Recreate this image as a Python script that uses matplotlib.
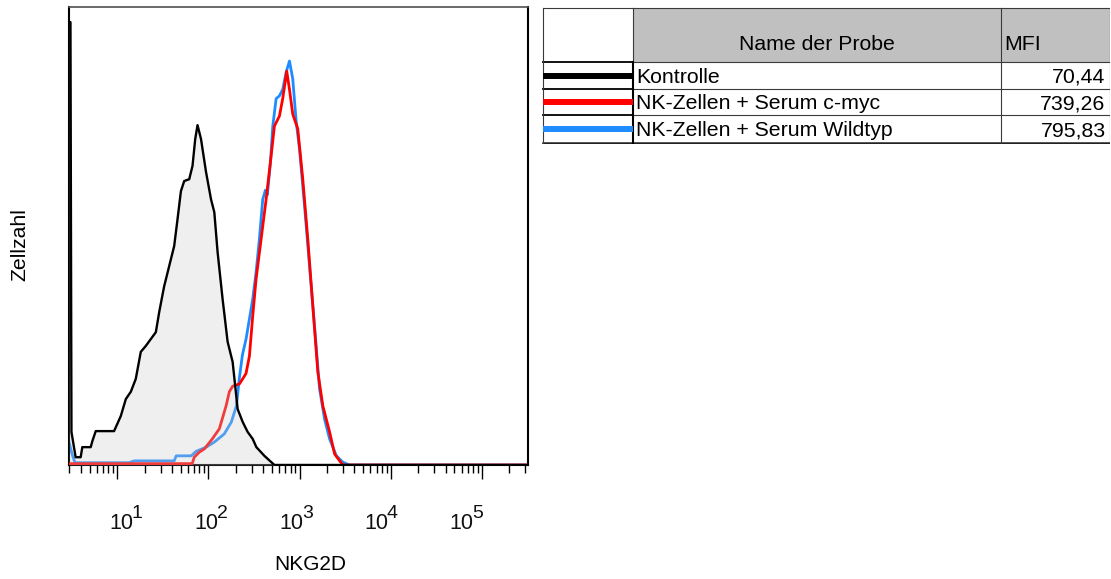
import numpy as np
import matplotlib
matplotlib.use("Agg")
import matplotlib.pyplot as plt
from matplotlib.patches import Rectangle
from matplotlib.ticker import LogLocator, NullFormatter, FixedLocator

plt.rcParams["font.family"] = ["Liberation Sans", "DejaVu Sans"]

# histogram traces: x in decades (log10 NKG2D intensity), y in % of max count
ctrl_log = [0.473, 0.489, 0.500, 0.546, 0.601, 0.619, 0.711, 0.729, 0.766, 0.967,
            1.003, 1.041, 1.096, 1.151, 1.205, 1.260, 1.315, 1.370, 1.425, 1.462,
            1.516, 1.571, 1.626, 1.663, 1.700, 1.736, 1.791, 1.827, 1.857, 1.882,
            1.920, 1.975, 2.030, 2.066, 2.102, 2.157, 2.212, 2.267, 2.322, 2.377,
            2.432, 2.487, 2.527, 2.615, 2.725, 5.505]
ctrl_count = [96.7, 96.7, 7.2, 1.7, 1.7, 3.9, 3.9, 5.2, 7.4, 7.4,
              9.0, 10.7, 14.4, 16.0, 18.8, 24.7, 26.0, 27.5, 29.0, 33.4,
              39.0, 43.4, 47.8, 53.7, 59.8, 62.0, 62.4, 65.3, 71.2, 74.2,
              71.2, 64.0, 58.0, 55.2, 46.5, 36.2, 26.9, 22.5, 12.2, 9.4,
              7.2, 5.7, 3.9, 2.0, 0.0, 0.0]

wt_log = [0.473, 0.505, 0.538, 1.132, 1.187, 1.626, 1.648, 1.813, 1.868, 1.978,
          2.066, 2.176, 2.253, 2.308, 2.341, 2.374, 2.414, 2.451, 2.487, 2.524,
          2.560, 2.597, 2.626, 2.648, 2.681, 2.707, 2.744, 2.780, 2.816, 2.854,
          2.890, 2.926, 2.964, 3.000, 3.055, 3.110, 3.165, 3.220, 3.275, 3.330,
          3.404, 3.476, 3.549, 5.505]
wt_count = [5.0, 2.5, 0.5, 0.5, 0.9, 0.9, 2.0, 2.0, 3.0, 3.9,
            5.0, 6.8, 9.4, 12.9, 19.0, 24.0, 27.5, 31.9, 36.2, 42.1,
            49.3, 58.0, 60.0, 59.0, 66.0, 74.0, 80.0, 80.6, 82.0, 85.8,
            88.2, 84.3, 74.9, 69.0, 56.6, 43.4, 30.3, 16.6, 10.0, 5.7,
            2.0, 0.6, 0.0, 0.0]

myc_log = [0.473, 1.824, 1.846, 1.901, 1.956, 2.044, 2.121, 2.195, 2.231, 2.267,
           2.341, 2.377, 2.414, 2.451, 2.487, 2.524, 2.579, 2.634, 2.689, 2.725,
           2.780, 2.816, 2.860, 2.890, 2.926, 2.981, 3.036, 3.091, 3.146, 3.201,
           3.256, 3.330, 3.385, 3.440, 3.476, 5.505]
myc_count = [0.3, 0.3, 1.7, 2.8, 3.5, 5.7, 7.9, 12.9, 16.0, 17.2,
             17.7, 18.8, 20.0, 23.8, 32.5, 40.6, 49.3, 58.0, 67.5, 74.0,
             76.2, 80.0, 86.0, 82.0, 76.6, 73.4, 62.4, 49.3, 34.7, 20.3,
             12.9, 7.2, 2.4, 0.9, 0.0, 0.0]

sample_names = ["Kontrolle", "NK-Zellen + Serum c-myc", "NK-Zellen + Serum Wildtyp"]
mfi_values = ["70,44", "739,26", "795,83"]
sample_colors = ["black", "#ff0000", "#1e8cff"]
decades = [1, 2, 3, 4, 5]

fig = plt.figure(figsize=(11.11, 5.79), dpi=100)
ax = fig.add_axes([69 / 1111, 1 - 465 / 579, 459 / 1111, 458 / 579])

ax.plot(np.power(10, wt_log), wt_count, color=sample_colors[2], lw=2.0, zorder=2)
ax.plot(np.power(10, myc_log), myc_count, color=sample_colors[1], lw=2.0, zorder=3)
ax.fill_between(np.power(10, ctrl_log), ctrl_count, 0, color="#cacaca", alpha=0.3,
                lw=0, zorder=4)
ax.plot(np.power(10, ctrl_log), ctrl_count, color=sample_colors[0], lw=1.7, zorder=5)

ax.set_xscale("log")
ax.set_xlim(10 ** 0.473, 10 ** 5.505)
ax.set_ylim(0, 100)
ax.set_yticks([])
ax.xaxis.set_major_locator(FixedLocator([10.0 ** k for k in decades]))
ax.xaxis.set_minor_locator(LogLocator(base=10, subs=np.arange(2, 10), numticks=20))
ax.xaxis.set_major_formatter(NullFormatter())
ax.xaxis.set_minor_formatter(NullFormatter())
ax.tick_params(axis="x", which="major", length=10, width=1.0, color="black")
ax.tick_params(axis="x", which="minor", length=5.5, width=1.0, color="black")
for side in ["left", "right", "bottom"]:
    ax.spines[side].set_linewidth(1.5)
    ax.spines[side].set_color("black")
ax.spines["top"].set_linewidth(1.2)
ax.spines["top"].set_color("#505050")

# decade labels: "10" plus a raised exponent, drifting left of the tick
for i, k in enumerate(decades):
    dx = -8 - 6.1 * i  # px
    ax.annotate("10", xy=(10.0 ** k, 0), xycoords=("data", "axes fraction"),
                xytext=(dx * 0.72, -46), textcoords="offset points",
                ha="left", va="baseline", fontsize=15.5, color="#111111")
    ax.annotate(str(k), xy=(10.0 ** k, 0), xycoords=("data", "axes fraction"),
                xytext=((dx + 22.5) * 0.72, -38), textcoords="offset points",
                ha="left", va="baseline", fontsize=14, color="#111111")

fig.text(310 / 1111, 1 - 564 / 579, "NKG2D", ha="center", va="center", fontsize=15)
fig.text(20 / 1111, 1 - 245 / 579, "Zellzahl", ha="center", va="center",
         rotation=90, fontsize=15.3)

# sample table, laid out in pixel units
tab = fig.add_axes([542 / 1111, 1 - 144 / 579, 568 / 1111, 137 / 579])
tab.set_xlim(541.5, 1109.5)
tab.set_ylim(144, 7)
tab.axis("off")

x0, x1, x2, x3 = 542, 632, 1000, 1109
row_edges = [8, 62, 88.5, 115, 142.5]
tab.add_patch(Rectangle((x1, row_edges[0]), x3 - x1, row_edges[1] - row_edges[0],
                        facecolor="#c0c0c0", edgecolor="none"))
grid_kw = dict(color="#3a3a3a", lw=0.8)
for y in row_edges[:-1]:
    tab.plot([x1, x3], [y, y], **grid_kw)
tab.plot([x0, x1], [row_edges[0], row_edges[0]], **grid_kw)
for y in row_edges[1:-1]:
    tab.plot([x0, x1], [y, y], color="black", lw=1.3)
tab.plot([x0, x3], [row_edges[-1], row_edges[-1]], color="#222222", lw=1.8)
for x in [x0, x2, x3]:
    tab.plot([x, x], [row_edges[0], row_edges[-1]], **grid_kw)
tab.plot([x1, x1], [row_edges[0], row_edges[1]], **grid_kw)
tab.plot([x1, x1], [row_edges[1], row_edges[-1]], color="black", lw=1.5)

tab.text((x1 + x2) / 2, 44, "Name der Probe", ha="center", va="center", fontsize=15.3)
tab.text(x2 + 4, 44, "MFI", ha="left", va="center", fontsize=15.3)
for i, (name, mfi, col) in enumerate(zip(sample_names, mfi_values, sample_colors)):
    mid = (row_edges[i + 1] + row_edges[i + 2]) / 2
    tab.plot([x0, x1], [mid + 0.5, mid + 0.5], color=col, lw=4.3, solid_capstyle="butt")
    tab.text(x1 + 4, mid + 2, name, ha="left", va="center", fontsize=15.3)
    tab.text(x3 - 4, mid + 2, mfi, ha="right", va="center", fontsize=15.3)

fig.savefig("out.png", dpi=100)
